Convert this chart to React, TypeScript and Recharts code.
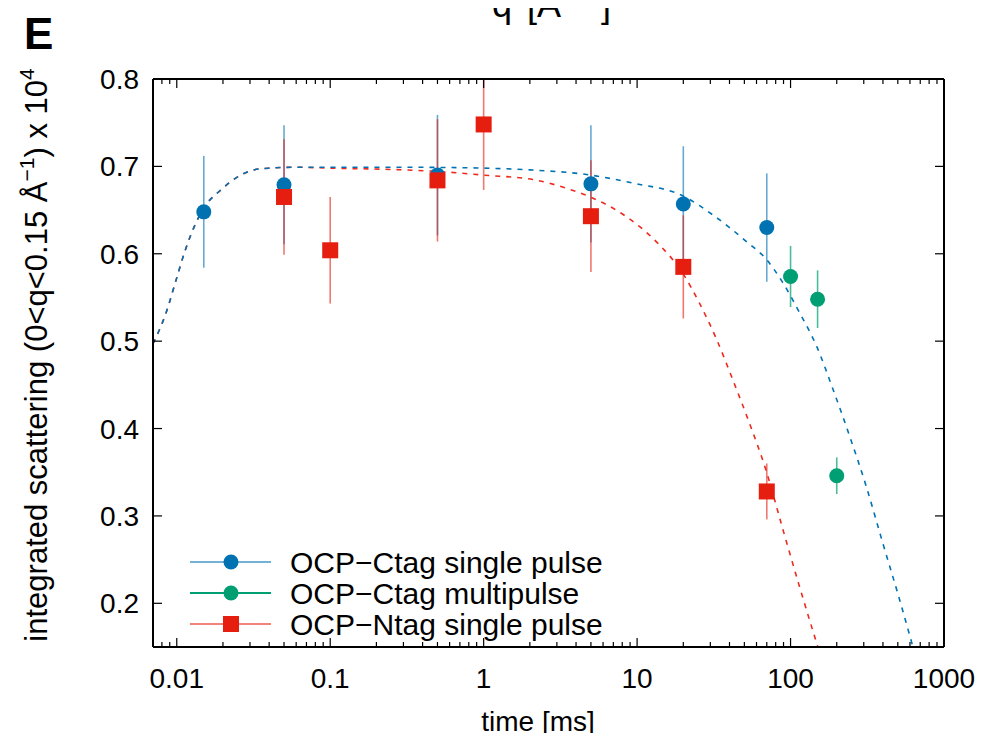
import { ComposedChart, ErrorBar, Line, Scatter, XAxis, YAxis } from "recharts";

const FONT = '"Liberation Sans", Arial, Helvetica, sans-serif';
const BLUE = "#0072b2";
const GREEN = "#009e73";
const RED = "#e51e10";

// OCP-Ctag single pulse
const ctagTime = [0.015, 0.05, 0.5, 5, 20, 70];
const ctagValue = [0.648, 0.679, 0.69, 0.68, 0.657, 0.63];
const ctagErr = [0.064, 0.068, 0.069, 0.067, 0.066, 0.062];

// OCP-Ctag multipulse
const multiTime = [100, 150, 200];
const multiValue = [0.574, 0.548, 0.346];
const multiErr = [0.035, 0.033, 0.021];

// OCP-Ntag single pulse (upper bar of the 1 ms point runs off the top of the frame)
const ntagTime = [0.05, 0.1, 0.5, 1, 5, 20, 70];
const ntagValue = [0.665, 0.604, 0.684, 0.748, 0.643, 0.585, 0.328];
const ntagErrLow = [0.066, 0.061, 0.07, 0.075, 0.064, 0.059, 0.032];
const ntagErrHigh = [0.066, 0.061, 0.07, 0.052, 0.064, 0.059, 0.032];

// dashed fit curves
const ctagFitTime = [
  0.007, 0.0085, 0.0099, 0.0114, 0.013, 0.0158, 0.0188, 0.0219, 0.0261, 0.0319,
  0.04, 0.06, 0.1, 0.3, 1, 2, 5, 9.3, 20, 32, 50, 70, 89, 115, 148, 189, 243,
  311, 399, 512, 625,
];
const ctagFitValue = [
  0.497, 0.532, 0.57, 0.605, 0.631, 0.658, 0.671, 0.681, 0.69, 0.696, 0.698,
  0.699, 0.699, 0.699, 0.698, 0.696, 0.69, 0.681, 0.666, 0.643, 0.616, 0.593,
  0.567, 0.532, 0.494, 0.445, 0.391, 0.334, 0.269, 0.205, 0.151,
];
const ntagFitTime = [
  0.007, 0.0085, 0.0099, 0.0114, 0.013, 0.0158, 0.0188, 0.0219, 0.0261, 0.0319,
  0.04, 0.06, 0.1, 0.3, 0.52, 1, 2.09, 3.45, 4.95, 7.3, 10.4, 14, 19.8, 25.4,
  32.6, 42, 54, 69, 89, 114, 150,
];
const ntagFitValue = [
  0.497, 0.532, 0.57, 0.605, 0.631, 0.658, 0.671, 0.681, 0.69, 0.696, 0.698,
  0.699, 0.698, 0.696, 0.694, 0.69, 0.685, 0.675, 0.665, 0.65, 0.631, 0.61,
  0.578, 0.544, 0.504, 0.456, 0.406, 0.353, 0.285, 0.22, 0.151,
];

const majorTicks = [0.01, 0.1, 1, 10, 100, 1000];
const majorLabels = ["0.01", "0.1", "1", "10", "100", "1000"];
const minorMultiples = [2, 3, 4, 5, 6, 7, 8, 9];
const minorTicks = [0.008, 0.009, ...majorTicks.slice(0, -1).flatMap((d) => minorMultiples.map((m) => m * d))];
const xTicks = [...majorTicks, ...minorTicks];
const yTicks = [0.2, 0.3, 0.4, 0.5, 0.6, 0.7, 0.8];

const legendItems = [
  { label: "OCP\u2212Ctag single pulse", color: BLUE, shape: "circle", lineOpacity: 0.55 },
  { label: "OCP\u2212Ctag multipulse", color: GREEN, shape: "circle", lineOpacity: 1 },
  { label: "OCP\u2212Ntag single pulse", color: RED, shape: "square", lineOpacity: 0.55 },
];

const toPoints = (ts: number[], vs: number[], lo?: number[], hi?: number[]) =>
  ts.map((t, i) => ({ t, v: vs[i], err: lo ? [lo[i], (hi ?? lo)[i]] : [0, 0] }));

const ctagData = toPoints(ctagTime, ctagValue, ctagErr);
const multiData = toPoints(multiTime, multiValue, multiErr);
const ntagData = toPoints(ntagTime, ntagValue, ntagErrLow, ntagErrHigh);
const ctagFit = toPoints(ctagFitTime, ctagFitValue);
const ntagFit = toPoints(ntagFitTime, ntagFitValue);

const isMajor = (v: number) => majorTicks.includes(v);

function BottomTick(props: any) {
  const { x, y, payload } = props;
  const major = isMajor(payload.value);
  const len = major ? 9 : 5;
  return (
    <g>
      <line x1={x} x2={x} y1={y} y2={y - len} stroke="#000" strokeWidth={1.2} />
      {major && (
        <text x={x} y={y + 41} textAnchor="middle" fontSize={28} fontFamily={FONT} fill="#000">
          {majorLabels[majorTicks.indexOf(payload.value)]}
        </text>
      )}
    </g>
  );
}

function TopTick(props: any) {
  const { x, y, payload } = props;
  const len = isMajor(payload.value) ? 9 : 5;
  return <line x1={x} x2={x} y1={y} y2={y + len} stroke="#000" strokeWidth={1.2} />;
}

function LeftTick(props: any) {
  const { x, y, payload } = props;
  return (
    <g>
      <line x1={x} x2={x + 9} y1={y} y2={y} stroke="#000" strokeWidth={1.2} />
      <text x={x - 14} y={y} dy={10} textAnchor="end" fontSize={28} fontFamily={FONT} fill="#000">
        {payload.value.toFixed(1)}
      </text>
    </g>
  );
}

function RightTick(props: any) {
  const { x, y } = props;
  return <line x1={x} x2={x - 9} y1={y} y2={y} stroke="#000" strokeWidth={1.2} />;
}

function YTitle() {
  return (
    <text transform="rotate(-90)" x={-355} y={47} textAnchor="middle" fontSize={31} fontFamily={FONT} fill="#000">
      integrated scattering (0&lt;q&lt;0.15 Å
      <tspan dy={-13} fontSize={21}>
        {"\u22121"}
      </tspan>
      <tspan dy={13}>) x 10</tspan>
      <tspan dy={-13} fontSize={21}>
        4
      </tspan>
    </text>
  );
}

function XTitle() {
  return (
    <text x={538} y={731} textAnchor="middle" fontSize={28} fontFamily={FONT} fill="#000">
      time [ms]
    </text>
  );
}

function Decorations() {
  return (
    <g fontFamily={FONT} fill="#000">
      <text x={24} y={49} fontSize={44} fontWeight="bold">
        E
      </text>
      <text y={17} fontSize={36}>
        <tspan x={492}>q</tspan>
        <tspan x={527}>[Å</tspan>
        <tspan x={566} dy={-14} fontSize={24}>
          {"\u22121"}
        </tspan>
        <tspan x={601} dy={14}>
          ]
        </tspan>
      </text>
      {legendItems.map((item, i) => {
        const cy = 562 + i * 31;
        return (
          <g key={item.label}>
            <line
              x1={190}
              x2={271}
              y1={cy}
              y2={cy}
              stroke={item.color}
              strokeOpacity={item.lineOpacity}
              strokeWidth={1.8}
            />
            {item.shape === "circle" ? (
              <circle cx={231} cy={cy} r={7.5} fill={item.color} />
            ) : (
              <rect x={223} y={cy - 8} width={16} height={16} fill={item.color} />
            )}
            <text x={290} y={cy + 11} fontSize={30}>
              {item.label}
            </text>
          </g>
        );
      })}
    </g>
  );
}

const circle = (color: string) => (p: any) => <circle cx={p.cx} cy={p.cy} r={7.5} fill={color} />;
const square = (color: string) => (p: any) => (
  <rect x={p.cx - 8} y={p.cy - 8} width={16} height={16} fill={color} />
);

const axisLine = { stroke: "#000", strokeWidth: 2 };

export default function App() {
  return (
    <div style={{ margin: -8, width: 988, height: 741, background: "#fff" }}>
      <ComposedChart width={988} height={741} margin={{ top: 78, right: 43, bottom: 0, left: 0 }}>
        <XAxis
          xAxisId="b"
          dataKey="t"
          type="number"
          scale="log"
          domain={[0.007, 1000]}
          allowDataOverflow
          ticks={xTicks}
          interval={0}
          height={94}
          tickSize={0}
          tickMargin={0}
          tickLine={false}
          axisLine={axisLine}
          tick={(p: any) => <BottomTick {...p} />}
          label={<XTitle />}
        />
        <XAxis
          xAxisId="t"
          orientation="top"
          dataKey="t"
          type="number"
          scale="log"
          domain={[0.007, 1000]}
          allowDataOverflow
          ticks={xTicks}
          interval={0}
          height={1}
          tickSize={0}
          tickMargin={0}
          tickLine={false}
          axisLine={axisLine}
          tick={(p: any) => <TopTick {...p} />}
          label={<Decorations />}
        />
        <YAxis
          yAxisId="l"
          dataKey="v"
          type="number"
          domain={[0.15, 0.8]}
          allowDataOverflow
          ticks={yTicks}
          interval={0}
          width={153}
          tickSize={0}
          tickMargin={0}
          tickLine={false}
          axisLine={axisLine}
          tick={(p: any) => <LeftTick {...p} />}
          label={<YTitle />}
        />
        <YAxis
          yAxisId="r"
          orientation="right"
          dataKey="v"
          type="number"
          domain={[0.15, 0.8]}
          allowDataOverflow
          ticks={yTicks}
          interval={0}
          width={1}
          tickSize={0}
          tickMargin={0}
          tickLine={false}
          axisLine={axisLine}
          tick={(p: any) => <RightTick {...p} />}
        />
        <Scatter xAxisId="b" yAxisId="l" data={ctagData} dataKey="v" shape={circle(BLUE)} isAnimationActive={false}>
          <ErrorBar dataKey="err" direction="y" width={0} stroke={BLUE} strokeOpacity={0.6} strokeWidth={1.6} />
        </Scatter>
        <Scatter xAxisId="b" yAxisId="l" data={multiData} dataKey="v" shape={circle(GREEN)} isAnimationActive={false}>
          <ErrorBar dataKey="err" direction="y" width={0} stroke={GREEN} strokeOpacity={0.7} strokeWidth={1.6} />
        </Scatter>
        <Scatter xAxisId="b" yAxisId="l" data={ntagData} dataKey="v" shape={square(RED)} isAnimationActive={false}>
          <ErrorBar dataKey="err" direction="y" width={0} stroke={RED} strokeOpacity={0.6} strokeWidth={1.6} />
        </Scatter>
        <Line
          xAxisId="b"
          yAxisId="l"
          data={ntagFit}
          dataKey="v"
          type="monotone"
          stroke="#ee2a1e"
          strokeWidth={1.6}
          strokeDasharray="5 6"
          dot={false}
          activeDot={false}
          isAnimationActive={false}
        />
        <Line
          xAxisId="b"
          yAxisId="l"
          data={ctagFit}
          dataKey="v"
          type="monotone"
          stroke={BLUE}
          strokeWidth={1.6}
          strokeDasharray="5 6"
          dot={false}
          activeDot={false}
          isAnimationActive={false}
        />
      </ComposedChart>
    </div>
  );
}
